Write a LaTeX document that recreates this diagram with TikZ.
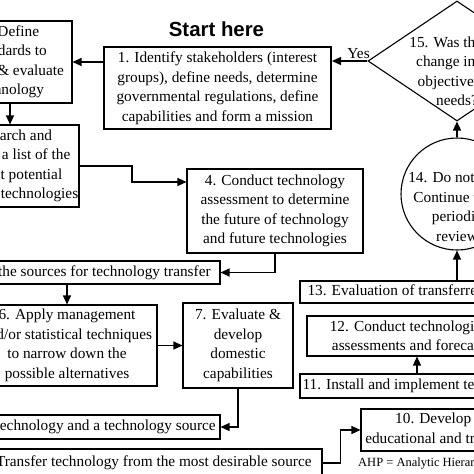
\documentclass[tikz,border=0pt]{standalone}
\usepackage{fontspec}
\setmainfont{Liberation Serif}
\newfontfamily\headfont{Liberation Sans}
\usetikzlibrary{shapes.geometric, arrows.meta}
\tikzset{box/.style = {draw, line width=1.1pt, inner sep=0pt, align=center, font={\fontsize{15.3}{19.5}\selectfont}},
         txt/.style = {inner sep=0pt, align=center, font={\fontsize{15.3}{19.5}\selectfont}},
         arr/.style = {line width=1.2pt, -{Triangle[length=9pt,width=8pt]}}}

\begin{document}
\begin{tikzpicture}[x=1pt,y=-1pt]
            \useasboundingbox (0,0) rectangle (474,474);
            \node[font={\headfont\bfseries\fontsize{20.4}{24}\selectfont}] (start) at (216.5,29) {Start here};
            \node[box, line width=2pt, minimum width=227pt, minimum height=82pt] (ident) at (217.5,88) {1. Identify stakeholders (interest\\groups), define needs, determine\\governmental regulations, define\\capabilities and form a mission};
            \node[box, minimum width=124pt, minimum height=82pt] (define) at (10,62) {2. Define\\standards to\\assess \& evaluate\\technology};
            \node[box, minimum width=138pt, minimum height=82pt] (search) at (10,166) {3. Search and\\develop a list of the\\the best potential\\available technologies};
            \node[box, minimum width=176pt, minimum height=84pt] (assess) at (275,211) {4. Conduct technology\\assessment to determine\\the future of technology\\and future technologies};
            \node[box, minimum width=300pt, minimum height=23pt] (sources) at (70,272.5) {5. Identify the sources for technology transfer};
            \node[box, minimum width=180pt, minimum height=81pt] (narrow) at (67,345.5) {6. Apply management\\and/or statistical techniques\\to narrow down the\\possible alternatives};
            \node[box, minimum width=110pt, minimum height=85pt] (domestic) at (238,345.5) {7. Evaluate \&\\develop\\domestic\\capabilities};
            \node[box, minimum width=297pt, minimum height=24pt] (select) at (71.5,427) {8. Select a technology and a technology source};
            \node[box, minimum width=353pt, minimum height=28pt] (transfer) at (145.5,463) {9. Transfer technology from the most desirable source};
            \node[box, minimum width=218pt, minimum height=42pt] (train) at (470,430) {10. Develop appropriate\\educational and training programs};
            \node[box, minimum width=234pt, minimum height=24pt] (install) at (417,386) {11. Install and implement technology};
            \node[box, minimum width=208pt, minimum height=40pt] (forecast) at (411,336) {12. Conduct technological\\assessments and forecasts};
            \node[box, minimum width=264pt, minimum height=22pt] (evaluate) at (432,292) {13. Evaluation of transferred technology};
            \node[draw, circle, line width=1.1pt, inner sep=0pt, minimum size=112pt] (review) at (457,194) {};
            \node[txt] (reviewtxt) at (457,207) {14. Do nothing.\\Continue with\\periodic\\review};
            \node[draw, diamond, line width=1.1pt, inner sep=0pt, minimum width=178pt, minimum height=120pt] (q15) at (457,61) {};
            \node[txt] (q15txt) at (457,71.5) {15. Was there a\\change in the\\objectives or\\needs?};
            \node[inner sep=0pt, font={\fontsize{12.5}{15}\selectfont}, anchor=west] (ahp) at (358,464) {AHP = Analytic Hierarchy Process};
            \coordinate (j34) at (132,182);
            \draw[arr] (q15.west) -- (q15.west -| ident.east) node[txt, pos=0.25, above, inner sep=1.5pt] {Yes};
            \draw[arr] (ident.west |- define.east) -- (define.east);
            \draw[arr] (define.south) -- (search.north);
            \draw[arr] (search.east) -| (j34) -- (j34 -| assess.west);
            \draw[arr] (assess.south) |- (sources.east);
            \draw[arr] (narrow.north |- sources.south) -- (narrow.north);
            \draw[arr] (narrow) -- (domestic);
            \draw[arr] (domestic.south) |- (select.east);
            \draw[arr] (transfer.east) -- ++(18,0) |- (train.west);
            \draw[arr] (install.north) -- (install.north |- forecast.south);
            \draw[arr] (evaluate.north -| review.south) -- (review.south);
            \draw[arr] (review.north) -- (q15.south);
        \end{tikzpicture}
\end{document}
